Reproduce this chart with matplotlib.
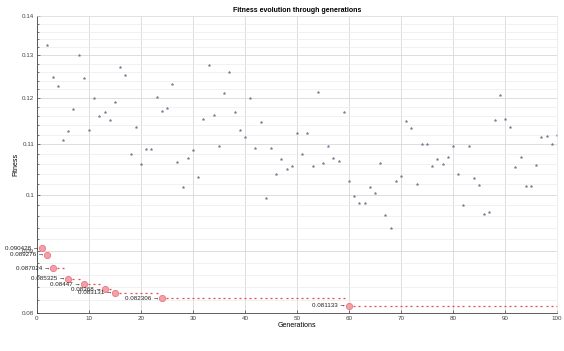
import matplotlib as mpl
import matplotlib.pyplot as plt
import matplotlib.ticker as mticker
import numpy as np

mpl.rcParams['font.family'] = ['Liberation Sans', 'DejaVu Sans']
mpl.rcParams['font.size'] = 4.5

# fitness of each generation (gray points), generations 2..100
gen = np.arange(2, 101)
fitness = [0.1325, 0.1249, 0.1227, 0.1109, 0.1127, 0.1175, 0.1300, 0.1245, 0.1130,
           0.1200, 0.1159, 0.1169, 0.1151, 0.1191, 0.1272, 0.1254, 0.1079, 0.1137,
           0.1060, 0.1089, 0.1089, 0.1202, 0.1170, 0.1177, 0.1233, 0.1063, 0.1014,
           0.1071, 0.1087, 0.1033, 0.1154, 0.1276, 0.1162, 0.1096, 0.1211, 0.1259,
           0.1169, 0.1130, 0.1114, 0.1200, 0.1091, 0.1146, 0.0994, 0.1093, 0.1040,
           0.1069, 0.1050, 0.1056, 0.1123, 0.1079, 0.1123, 0.1056, 0.1214, 0.1061,
           0.1097, 0.1072, 0.1065, 0.1169, 0.1026, 0.0998, 0.0985, 0.0985, 0.1015,
           0.1003, 0.1062, 0.0962, 0.0940, 0.1026, 0.1036, 0.1148, 0.1134, 0.1021,
           0.1100, 0.1100, 0.1056, 0.1069, 0.1060, 0.1074, 0.1097, 0.1040, 0.0981,
           0.1097, 0.1031, 0.1018, 0.0964, 0.0968, 0.1152, 0.1207, 0.1153, 0.1136,
           0.1053, 0.1074, 0.1016, 0.1016, 0.1057, 0.1114, 0.1116, 0.1101, 0.1118]

# improvements of the best individual
best_gen = [1, 2, 3, 6, 9, 13, 15, 24, 60]
best_fit = [0.090428, 0.089276, 0.087024, 0.085325, 0.08447, 0.083680, 0.083131,
            0.082306, 0.081133]
best_labels = ['0.090428', '0.089276', '0.087024', '0.085325', '0.08447', '0.08368',
               '0.083131', '0.082306', '0.081133']

yticks = [0.08, 0.09, 0.1, 0.11, 0.12, 0.13, 0.14]

# best so far for every generation
all_gen = np.arange(1, 101)
idx = np.searchsorted(best_gen, all_gen, side='right') - 1
best_so_far = np.array(best_fit)[idx]

fig = plt.figure(figsize=(5.64, 3.51), dpi=100)
ax = fig.add_axes([0.0656, 0.108, 0.922, 0.846])

ax.plot(gen, fitness, linestyle='none', marker='*', markersize=1.8,
        color='#7a7a96', markeredgewidth=0.4)
ax.plot(all_gen, best_so_far, linestyle='none', marker='_', markersize=1.8,
        color='#e8484f', markeredgewidth=0.9)
ax.plot(best_gen, best_fit, linestyle='none', marker='o', markersize=4.5,
        markerfacecolor='#f3a0a8', markeredgecolor='#ee7580', markeredgewidth=0.6)

for g, f, lab in zip(best_gen, best_fit, best_labels):
    ax.annotate(lab + ' \u2192', xy=(g, f), xytext=(-2, 0), textcoords='offset points',
                ha='right', va='center', fontsize=4.5, color='#222222')

ax.set_yscale('log')
ax.set_xlim(0, 100)
ax.set_ylim(0.08, 0.14)
ax.xaxis.set_major_locator(mticker.MultipleLocator(10))
ax.yaxis.set_major_locator(mticker.FixedLocator(yticks))
ax.yaxis.set_major_formatter(mticker.FixedFormatter(['%g' % t for t in yticks]))
ax.yaxis.set_minor_locator(mticker.FixedLocator(np.arange(0.08, 0.1401, 0.002)))
ax.yaxis.set_minor_formatter(mticker.NullFormatter())

ax.grid(True, which='major', color='#d8d8d8', linewidth=0.6)
ax.grid(True, which='minor', axis='y', color='#ececec', linewidth=0.5)
ax.set_axisbelow(True)

ax.tick_params(which='both', direction='in', length=2, width=0.5, colors='#444444',
               labelsize=4.5, pad=2)
ax.tick_params(which='minor', length=1.2)
for side in ['top', 'right']:
    ax.spines[side].set_color('#e4e4e4')
    ax.spines[side].set_linewidth(0.5)
for side in ['left', 'bottom']:
    ax.spines[side].set_color('#444444')
    ax.spines[side].set_linewidth(0.6)

ax.set_title('Fitness evolution through generations', fontsize=5, fontweight='bold', pad=3)
ax.set_xlabel('Generations', fontsize=5, labelpad=1)
ax.set_ylabel('Fitness', fontsize=5, labelpad=2)

fig.savefig('out.png', dpi=100)
